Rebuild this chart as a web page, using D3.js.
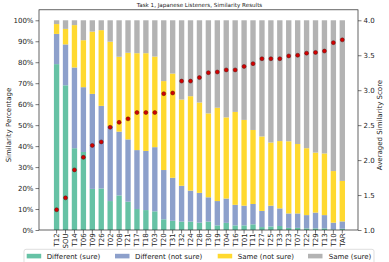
<!DOCTYPE html>
<html><head><meta charset="utf-8">
<script src="https://cdn.jsdelivr.net/npm/d3@7"></script>
<style>
html,body{margin:0;padding:0;background:#fff;}
svg{display:block;font-family:"DejaVu Sans",sans-serif;}
</style></head>
<body><svg id="c" width="389" height="262"></svg>
<script>
const categories = ["T12","SOU","T14","T06","T09","T26","T02","T08","T21","T17","T18","T03","T20","T31","T32","T24","T28","T30","T19","T04","T16","T01","T11","T27","T25","T33","T23","T07","T22","T29","T13","T10","TAR"];
const diffSure    = [79.1,69.0,39.0,37.2,19.6,19.8,13.8,16.5,13.5,10.0,9.5,8.9,5.1,4.4,4.0,4.0,3.5,4.0,2.2,3.4,2.2,2.2,2.7,1.4,1.7,1.9,1.0,1.0,0.8,0.8,0.8,0.3,0.6];
const diffNotSure = [14.4,19.5,38.5,30.9,45.3,39.4,35.8,30.4,29.7,28.1,28.2,30.6,23.5,20.5,17.1,14.8,14.2,11.6,11.6,11.6,9.8,9.4,9.7,7.7,9.9,8.4,6.9,6.9,6.3,7.5,6.3,3.2,3.5];
const sameNotSure = [4.7,7.4,20.2,22.4,29.7,36.1,40.2,35.7,41.3,46.2,46.6,43.2,42.4,49.7,41.1,45.0,43.1,40.0,44.5,38.7,44.3,40.9,35.3,35.5,30.1,32.1,34.4,33.1,31.9,28.6,29.4,24.6,19.3];
const sameSure    = [1.8,4.1,2.3,9.5,5.4,4.7,10.2,17.4,15.5,15.7,15.7,17.3,29.0,25.4,37.8,36.2,39.2,44.4,41.7,46.3,43.7,47.5,52.3,55.4,58.3,57.6,57.7,59.0,61.0,63.1,63.5,71.9,76.6];
const avgScore    = [1.29,1.46,1.86,2.04,2.21,2.26,2.47,2.54,2.59,2.68,2.68,2.68,2.95,2.96,3.13,3.13,3.18,3.25,3.26,3.29,3.29,3.34,3.38,3.45,3.45,3.45,3.49,3.50,3.53,3.54,3.56,3.68,3.72];
const seriesNames = ["Different (sure)","Different (not sure)","Same (not sure)","Same (sure)"];
const percentTicks = [0,10,20,30,40,50,60,70,80,90,100];
const scoreTicks = [1.0,1.5,2.0,2.5,3.0,3.5,4.0];

const colors = ["#66c2a5","#8da0cb","#ffd92f","#b3b3b3"];
const svg = d3.select("#c");
const L = 39, R = 358, T = 9.8, B = 230;
const stepGuess = (342.3-56.6)/32;
const x = d3.scaleBand().domain(categories).range([56.6-stepGuess/2, 342.3+stepGuess/2]).paddingInner(0.4).paddingOuter(0.2);
const y = d3.scaleLinear().domain([0,105]).range([B,T]);
const y2 = d3.scaleLinear().domain([1,4.15]).range([B,T]);

const rows = categories.map((c,i)=>({cat:c, s0:diffSure[i], s1:diffNotSure[i], s2:sameNotSure[i], s3:sameSure[i]}));
const stack = d3.stack().keys(["s0","s1","s2","s3"])(rows);

svg.append("g").selectAll("g").data(stack).join("g")
  .attr("fill",(d,i)=>colors[i])
  .selectAll("rect").data(d=>d).join("rect")
  .attr("x",d=>x(d.data.cat)).attr("width",x.bandwidth())
  .attr("y",d=>y(d[1])).attr("height",d=>y(d[0])-y(d[1]));

// dots
svg.append("g").selectAll("circle").data(categories).join("circle")
  .attr("cx",c=>x(c)+x.bandwidth()/2).attr("cy",(c,i)=>y2(avgScore[i]))
  .attr("r",2).attr("fill","#d40000").attr("stroke","#5a1010").attr("stroke-width",0.5);

// axes
const fs = 7;
const axL = svg.append("g").attr("transform",`translate(${L},0)`)
  .call(d3.axisLeft(y).tickValues(percentTicks).tickFormat(d=>d+"%").tickSize(3.5).tickPadding(2));
const axR = svg.append("g").attr("transform",`translate(${R},0)`)
  .call(d3.axisRight(y2).tickValues(scoreTicks).tickFormat(d3.format(".1f")).tickSize(3.5).tickPadding(2));
const axB = svg.append("g").attr("transform",`translate(0,${B})`)
  .call(d3.axisBottom(x).tickSize(3.5).tickPadding(2));
[axL,axR,axB].forEach(a=>{
  a.select(".domain").remove();
  a.selectAll("line").attr("stroke","#222").attr("stroke-width",0.6);
  a.selectAll("text").attr("font-size",fs).attr("fill","#222").attr("font-family","DejaVu Sans");
});
axB.selectAll("text").attr("transform","rotate(-90)").attr("text-anchor","end")
  .attr("x",-3.3).attr("y",0).attr("dy","0.35em");

// spines
svg.append("rect").attr("x",L).attr("y",T).attr("width",R-L).attr("height",B-T)
  .attr("fill","none").attr("stroke","#222").attr("stroke-width",0.7);

// labels
svg.append("text").attr("x",199.5).attr("y",7).attr("text-anchor","middle").attr("font-size",5.6).attr("fill","#222")
  .text("Task 1, Japanese Listeners, Similarity Results");
svg.append("text").attr("transform","translate(10.5,125) rotate(-90)").attr("text-anchor","middle").attr("font-size",fs).attr("fill","#222")
  .text("Similarity Percentage");
svg.append("text").attr("transform","translate(382,125) rotate(-90)").attr("text-anchor","middle").attr("font-size",fs).attr("fill","#222")
  .text("Averaged Similarity Score");

// legend
const lg = svg.append("g");
lg.append("rect").attr("x",24).attr("y",249.3).attr("width",350).attr("height",16).attr("rx",2)
  .attr("fill","#fff").attr("stroke","#d0d0d0").attr("stroke-width",0.7);
const patchX = [26.7,115,217.7,308];
const textX = [46.7,135,237.7,328.7];
seriesNames.forEach((n,i)=>{
  lg.append("rect").attr("x",patchX[i]).attr("y",253.8).attr("width",14.5).attr("height",4.6).attr("fill",colors[i]);
  lg.append("text").attr("x",textX[i]).attr("y",258.6).attr("font-size",fs).attr("fill","#222").text(n);
});
</script></body></html>
